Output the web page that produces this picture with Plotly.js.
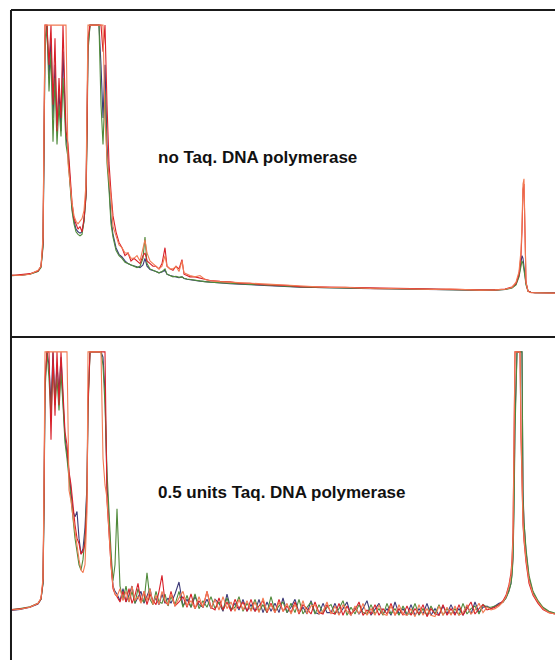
<!DOCTYPE html>
<html>
<head>
<meta charset="utf-8">
<script src="https://cdn.plot.ly/plotly-3.0.1.min.js"></script>
<style>html,body{margin:0;padding:0;background:#fff;overflow:hidden}#chart{width:555px;height:660px}</style>
</head>
<body>
<div id="chart"></div>
<script>
// Scan positions (arbitrary retention units) for the top chromatogram
const xTop = [
  12, 20, 30, 38, 41, 43, 44, 45, 47, 49,
  51, 53, 55, 57, 59, 61, 63, 65, 66, 68,
  70, 72, 74, 76, 78, 80, 82, 84, 86, 87,
  88, 90, 93, 96, 99, 101, 103, 105, 107, 109,
  111, 113, 116, 119, 122, 125, 128, 131, 134, 137,
  140, 143, 145, 147, 150, 153, 156, 159, 162, 165,
  167, 170, 173, 176, 179, 182, 184, 187, 190, 195,
  200, 205, 210, 220, 230, 240, 250, 260, 270, 280,
  290, 300, 315, 330, 345, 360, 375, 390, 405, 420,
  435, 450, 465, 480, 495, 505, 512, 516, 519, 521,
  522, 523, 524, 525, 526, 528, 531, 535, 545, 555
];
// Detector signal (relative, 100 = saturation) – no Taq. DNA polymerase
const topOrange = [
  5.7, 5.5, 6.0, 7.5, 9, 20, 60, 100, 100, 100,
  100, 100, 100, 100, 100, 100, 100, 100, 100, 48,
  40, 33, 28, 26, 25, 26, 27, 30, 40, 70,
  100, 100, 100, 100, 100, 100, 100, 65, 50, 42,
  35, 24, 20, 17, 16, 14, 14, 12, 12, 13,
  11, 16, 19, 14, 11, 10, 9, 8, 9, 13,
  9, 8, 8, 9, 7, 11, 6.5, 6, 5.5, 5,
  5.5, 4, 3.5, 3.2, 3, 2.8, 2.5, 2.2, 2.0, 1.8,
  1.6, 1.4, 1.3, 1.0, 1.1, 0.8, 0.5, 0.6, 0.4, 0.3,
  0.2, 0.4, 0.1, 0, 0.1, 0.3, 1, 3, 7, 15,
  25, 40, 42, 15, 3, -0.5, -1, -1, -1.1, -1.2
];
const topRed = [
  5.5, 5.8, 6.2, 7.2, 9, 18, 55, 100, 100, 85,
  100, 70, 95, 60, 80, 65, 100, 75, 60, 55,
  42, 33, 27, 25, 23, 24, 22, 27, 36, 60,
  95, 100, 100, 100, 100, 100, 90, 100, 70, 48,
  37, 28, 22, 18, 16, 13, 14, 11, 12, 11,
  10, 13, 14, 11, 10, 9, 9, 8, 10, 16,
  9, 8, 7.5, 9, 8, 11.5, 6, 5.5, 5, 5,
  4.5, 4, 3.6, 3.3, 3.1, 2.6, 2.6, 2.1, 2.0, 1.7,
  1.7, 1.3, 1.2, 1.1, 0.9, 0.9, 0.6, 0.5, 0.6, 0.3,
  0.3, 0.3, 0.2, 0.1, 0.1, 0.4, 1.2, 2.5, 6, 13,
  22, 38, 40, 13, 3, -0.3, -0.9, -1, -1.1, -1.1
];
const topGreen = [
  5.4, 5.7, 6, 7, 8.5, 16, 45, 90, 100, 75,
  90, 56, 80, 55, 70, 58, 80, 62, 55, 50,
  40, 30, 25, 22, 21, 20.5, 21, 26, 35, 55,
  90, 100, 100, 100, 100, 70, 55, 75, 48, 38,
  25, 20, 15, 13, 12, 10.5, 10, 9.5, 9, 8.5,
  9, 12, 20, 10, 8, 7.5, 7, 6.5, 7, 8,
  6, 5.5, 5, 5.2, 4.8, 5, 4.5, 4.2, 4, 3.8,
  3.5, 3.2, 3, 2.8, 2.5, 2.3, 2.0, 1.8, 1.6, 1.5,
  1.3, 1.2, 1.0, 0.9, 0.8, 0.6, 0.5, 0.4, 0.3, 0.3,
  0.2, 0.2, 0.1, 0, 0, 0.2, 0.8, 2, 5, 9,
  11, 10, 8, 5, 2, -0.5, -0.8, -1, -1, -1.1
];
const topBlue = [
  5.6, 5.5, 6.1, 7.2, 8.8, 17, 50, 95, 100, 80,
  95, 65, 85, 62, 75, 60, 90, 68, 58, 52,
  41, 31, 26, 23, 22, 21.5, 22, 26, 36, 58,
  92, 100, 100, 100, 100, 85, 65, 85, 55, 40,
  27, 21, 16, 13.5, 12.5, 11, 10, 9.5, 9, 8.8,
  8.5, 9.5, 12, 9, 7.8, 7.5, 7, 6.5, 6.8, 7.5,
  6, 5.5, 5.2, 5.1, 4.7, 5, 4.4, 4.1, 4, 3.7,
  3.4, 3.2, 3, 2.7, 2.4, 2.2, 2.0, 1.7, 1.6, 1.4,
  1.3, 1.1, 1.0, 0.8, 0.7, 0.6, 0.5, 0.4, 0.3, 0.2,
  0.2, 0.1, 0.1, 0, 0, 0.2, 0.9, 2.2, 5.5, 10,
  13, 12, 9, 6, 2.5, -0.4, -0.8, -1, -1.1, -1.1
];

// Scan positions for the bottom chromatogram
const xBot = [
  12, 20, 30, 38, 41, 43, 44, 45, 47, 49,
  51, 53, 55, 57, 59, 61, 63, 65, 67, 69,
  71, 73, 75, 77, 79, 81, 83, 85, 87, 88,
  90, 93, 96, 99, 101, 103, 105, 107, 109, 111,
  113, 115, 117, 120, 123, 126, 129, 132, 135, 138,
  141, 144, 147, 150, 153, 156, 159, 162, 165, 168,
  171, 175, 179, 183, 187, 191, 195, 199, 203, 207,
  211, 215, 219, 223, 227, 231, 235, 239, 243, 247,
  251, 255, 259, 263, 267, 271, 275, 279, 283, 287,
  291, 295, 299, 303, 307, 311, 315, 319, 323, 327,
  331, 335, 339, 343, 347, 351, 355, 359, 363, 367,
  371, 375, 379, 383, 387, 391, 395, 399, 403, 407,
  411, 415, 419, 423, 427, 431, 435, 439, 443, 447,
  451, 455, 459, 463, 467, 471, 475, 479, 483, 487,
  491, 495, 499, 503, 506, 509, 511, 512, 513, 514,
  515, 517, 519, 520, 521, 522, 523, 524, 526, 529,
  533, 538, 543, 549, 555
];
// Detector signal (relative, 100 = saturation) – 0.5 units Taq. DNA polymerase
const botOrange = [
  3, 3.3, 4, 5.5, 7.5, 15, 50, 100, 100, 100,
  100, 100, 100, 100, 100, 100, 100, 100, 100, 48,
  44, 38, 32, 26, 22, 18, 17, 20, 40, 100,
  100, 100, 100, 100, 100, 60, 50, 45, 30, 20,
  12, 9, 8, 11, 6.5, 10, 6, 12, 6.5, 8,
  5.5, 10, 6.5, 11, 5, 8.5, 5, 10, 6.5, 5,
  9, 4.5, 7.5, 10, 4.5, 6.5, 3.5, 8, 4, 10,
  3.5, 7, 3, 8, 3.5, 6, 2.5, 7, 3, 6.5,
  2.5, 6, 2, 7.5, 2.5, 5, 2, 6, 2.5, 5.5,
  1.5, 5, 2, 6.5, 1.5, 4.5, 5, 1.5, 2.5, 6,
  1.5, 4.5, 1, 5, 2.5, 1, 4.5, 1.5, 5.5, 1,
  3.5, 1, 5, 1.5, 1, 4.5, 1, 5, 1.5, 1,
  3.5, 0.5, 5, 1, 3.5, 1, 0.5, 4.5, 1, 4,
  1, 4.5, 1, 2, 5, 1.5, 3, 5.5, 2, 4,
  3, 3.5, 4.5, 6, 8, 12, 16, 21, 30, 75,
  100, 100, 100, 100, 70, 45, 36, 30, 22, 14,
  9, 6, 3.5, 2, 1.5
];
const botRed = [
  3.2, 3.4, 4.1, 5.4, 7.2, 14, 45, 90, 100, 100,
  67, 100, 76, 100, 80, 100, 85, 70, 65, 55,
  50, 42, 35, 30, 28, 24, 25, 28, 45, 80,
  100, 100, 100, 100, 100, 100, 100, 44, 30, 20,
  11, 9, 8, 6, 10, 6, 11, 5.5, 8.5, 13,
  6, 10, 5, 9, 6.5, 5, 10, 16, 6, 5,
  10, 4.5, 6, 8, 4, 9, 3.5, 6.5, 4, 10,
  4, 3, 7.5, 3, 6, 2.5, 7, 3.5, 6, 2.5,
  7, 2.5, 4.5, 6.5, 2, 5.5, 2, 7, 2.5, 4.5,
  2, 6, 1.5, 5, 3.5, 1.5, 6, 2, 1.5, 5,
  2, 1.5, 5.5, 1, 4.5, 1.5, 3, 6, 1, 3,
  1.5, 5, 1, 3.5, 1.5, 5.5, 1, 3.5, 1, 4.5,
  1, 3.5, 1.5, 5, 0.5, 3.5, 1.5, 1, 5, 1,
  3.5, 1, 5, 1, 3.5, 6, 1.5, 3.5, 5, 3,
  3.5, 4, 5, 6.5, 8.5, 12.5, 17, 22, 32, 80,
  100, 100, 100, 100, 68, 44, 35, 29, 21, 13,
  8.5, 5.5, 3.2, 2, 1.5
];
const botGreen = [
  3.2, 3.5, 4.2, 5.5, 7, 13, 40, 85, 100, 90,
  75, 95, 80, 90, 78, 92, 80, 66, 60, 52,
  46, 38, 30, 25, 20, 18, 22, 30, 48, 78,
  100, 100, 100, 100, 100, 95, 80, 55, 38, 25,
  14, 20, 41, 12, 7, 12, 6, 10, 5.5, 11,
  7, 6, 17, 7, 5, 10, 6, 5.5, 9, 4.5,
  8, 5, 10, 4, 8.5, 4, 9, 3.5, 6.5, 4,
  8, 3.5, 6, 3, 7.5, 3, 4, 8, 2.5, 5.5,
  3, 7, 2.5, 5, 2, 8, 2.5, 4.5, 6, 2,
  5.5, 2, 7, 1.5, 4, 6, 1.5, 5, 2, 4,
  5, 1.5, 3.5, 6.5, 1, 4, 1.5, 5, 2, 1.5,
  5, 1.5, 3.5, 1, 5.5, 1.5, 3.5, 1, 4.5, 1.5,
  1.5, 5.5, 1, 3.5, 1, 4.5, 1.5, 5, 1, 3.5,
  1.5, 3.5, 1, 5.5, 1.5, 3.5, 4.5, 1.5, 5, 4,
  4, 4.5, 5, 6, 7.5, 10, 13, 16, 22, 40,
  70, 100, 100, 100, 100, 100, 45, 36, 26, 16,
  10, 6.5, 4, 2.5, 1.8
];
const botBlue = [
  2.8, 3.2, 4, 5.2, 7, 13, 42, 88, 100, 95,
  80, 100, 82, 95, 85, 98, 82, 68, 62, 54,
  47, 40, 38, 40, 30, 24, 26, 34, 50, 82,
  100, 100, 100, 100, 100, 98, 85, 50, 35, 22,
  12, 10, 9, 6.5, 11, 6, 8.5, 12, 5.5, 8,
  10, 5.5, 8, 11, 5.5, 7.5, 5, 9, 5.5, 7.5,
  5.5, 9, 13.5, 4.5, 7, 4, 8, 5, 4, 7,
  3.5, 7, 5.5, 2.5, 9, 3, 5.5, 3, 7, 2.5,
  5, 2.5, 7, 2, 6, 2.5, 5.5, 2, 7.5, 2,
  4, 7, 2, 4, 1.5, 6.5, 2, 1.5, 5.5, 2,
  2, 5.5, 1.5, 3.5, 6, 1, 4, 1.5, 3.5, 6.5,
  1, 3.5, 5.5, 1.5, 3.5, 1, 6, 1.5, 3.5, 1,
  5, 1, 3.5, 1.5, 5.5, 1, 3.5, 1, 4.5, 1.5,
  5, 1.5, 3.5, 1, 4.5, 1.5, 6, 2, 4, 4.5,
  3.5, 4.5, 5.5, 6, 7.5, 10.5, 13, 17, 23, 45,
  75, 100, 100, 100, 100, 100, 48, 36, 25, 15,
  9.5, 6, 3.8, 2.2, 1.6
];

const panelLabels = ['no Taq. DNA polymerase', '0.5 units Taq. DNA polymerase'];
const seriesColors = {blue: '#3d3a78', green: '#4f8a3a', red: '#d8202a', orange: '#f27a52'};

function tr(x, y, color, ax) {
  return {x: x, y: y, type: 'scatter', mode: 'lines', xaxis: 'x' + (ax === 1 ? '' : ax), yaxis: 'y' + (ax === 1 ? '' : ax),
    line: {color: color, width: 1.1}, hoverinfo: 'skip', showlegend: false};
}

const data = [
  tr(xTop, topBlue, seriesColors.blue, 1),
  tr(xTop, topGreen, seriesColors.green, 1),
  tr(xTop, topRed, seriesColors.red, 1),
  tr(xTop, topOrange, seriesColors.orange, 1),
  tr(xBot, botBlue, seriesColors.blue, 2),
  tr(xBot, botGreen, seriesColors.green, 2),
  tr(xBot, botRed, seriesColors.red, 2),
  tr(xBot, botOrange, seriesColors.orange, 2)
];

const hidden = {showgrid: false, zeroline: false, showticklabels: false, ticks: '', showline: false, fixedrange: true};
const layout = {
  width: 555, height: 660,
  margin: {l: 0, r: 0, t: 0, b: 0},
  paper_bgcolor: '#ffffff', plot_bgcolor: '#ffffff',
  showlegend: false,
  xaxis: Object.assign({}, hidden, {domain: [0, 1], range: [0, 555], anchor: 'y'}),
  yaxis: Object.assign({}, hidden, {domain: [0.4894, 0.9848], range: [-17.7, 105.7], anchor: 'x'}),
  xaxis2: Object.assign({}, hidden, {domain: [0, 1], range: [0, 555], anchor: 'y2'}),
  yaxis2: Object.assign({}, hidden, {domain: [0, 0.4894], range: [-15.8, 105.6], anchor: 'x2'}),
  shapes: [
    {type: 'line', xref: 'paper', yref: 'paper', x0: 0.0198, x1: 1.02, y0: 0.9848, y1: 0.9848, line: {color: '#1a1a1a', width: 2}},
    {type: 'line', xref: 'paper', yref: 'paper', x0: 0.0198, x1: 1.02, y0: 0.4894, y1: 0.4894, line: {color: '#1a1a1a', width: 2}},
    {type: 'line', xref: 'paper', yref: 'paper', x0: 0.0198, x1: 0.0198, y0: -0.02, y1: 0.9848, line: {color: '#1a1a1a', width: 2}}
  ],
  annotations: [
    {text: '<b>' + panelLabels[0] + '</b>', xref: 'paper', yref: 'paper', x: 0.281, y: 0.762, xanchor: 'left', yanchor: 'middle', showarrow: false,
      font: {family: 'Liberation Sans, Arial, sans-serif', size: 17, color: '#111'}},
    {text: '<b>' + panelLabels[1] + '</b>', xref: 'paper', yref: 'paper', x: 0.281, y: 0.2545, xanchor: 'left', yanchor: 'middle', showarrow: false,
      font: {family: 'Liberation Sans, Arial, sans-serif', size: 17, color: '#111'}}
  ]
};

Plotly.newPlot('chart', data, layout, {staticPlot: true, displayModeBar: false});
</script>
</body>
</html>
